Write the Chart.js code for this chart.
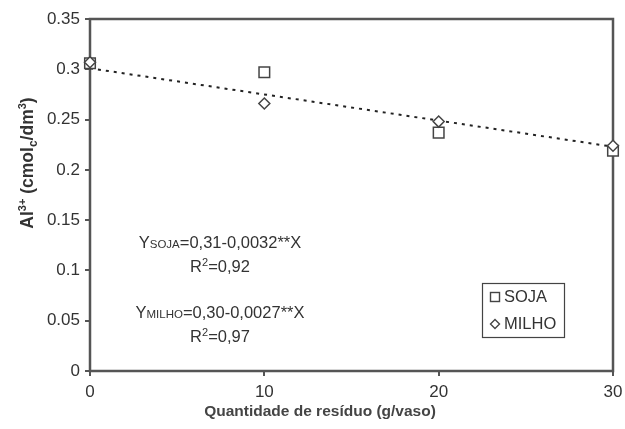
<!DOCTYPE html>
<html>
<head>
<meta charset="utf-8">
<script src="https://cdn.jsdelivr.net/npm/chart.js@4.4.1/dist/chart.umd.min.js"></script>
<style>
  html, body { margin: 0; background: #fff; }
  #wrap { width: 625px; height: 429px; }
</style>
</head>
<body>
<div id="wrap"><canvas id="alChart"></canvas></div>
<script>
// Al3+ no solo em função da dose de resíduo
const doses = [0, 10, 20, 30];
const soja = [0.306, 0.297, 0.237, 0.219];
const milho = [0.307, 0.266, 0.248, 0.224];
const trendX = [0, 30];
const trendY = [0.301, 0.223];
const xTicks = [0, 10, 20, 30];
const yTicks = ['0', '0.05', '0.1', '0.15', '0.2', '0.25', '0.3', '0.35'];
const seriesNames = ['SOJA', 'MILHO'];
const xTitle = 'Quantidade de resíduo (g/vaso)';

const FONT = '"Liberation Sans", Arial, sans-serif';
const INK = '#333';
const AXIS = '#555';

// texto com sub/sobrescritos: [texto, tamanho, deslocamento vertical]
function richText(ctx, parts, x, y, bold, align) {
    const w = parts.reduce((s, p) => {
        ctx.font = (bold ? 'bold ' : '') + p[1] + 'px ' + FONT;
        return s + ctx.measureText(p[0]).width;
    }, 0);
    let cx = align === 'center' ? x - w / 2 : x;
    ctx.textBaseline = 'alphabetic';
    ctx.textAlign = 'left';
    parts.forEach(p => {
        ctx.font = (bold ? 'bold ' : '') + p[1] + 'px ' + FONT;
        ctx.fillText(p[0], cx, y + (p[2] || 0));
        cx += ctx.measureText(p[0]).width;
    });
}

const equations = [
    { y: 248, parts: [['Y', 16.5], ['SOJA', 11.5], ['=0,31-0,0032**X', 16.5]] },
    { y: 272, parts: [['R', 16.5], ['2', 11, -6], ['=0,92', 16.5]] },
    { y: 318, parts: [['Y', 16.5], ['MILHO', 11.5], ['=0,30-0,0027**X', 16.5]] },
    { y: 342, parts: [['R', 16.5], ['2', 11, -6], ['=0,97', 16.5]] }
];

function drawSquare(ctx, x, y, s) {
    ctx.fillStyle = '#fff';
    ctx.fillRect(x - s / 2, y - s / 2, s, s);
    ctx.strokeRect(x - s / 2, y - s / 2, s, s);
}
function drawDiamond(ctx, x, y, r) {
    ctx.beginPath();
    ctx.moveTo(x, y - r); ctx.lineTo(x + r, y); ctx.lineTo(x, y + r); ctx.lineTo(x - r, y);
    ctx.closePath();
    ctx.fillStyle = '#fff';
    ctx.fill();
    ctx.stroke();
}

const decorPlugin = {
    id: 'decor',
    beforeDatasetsDraw(chart) {
        const { ctx, chartArea: a } = chart;
        ctx.save();
        ctx.strokeStyle = AXIS;
        ctx.lineWidth = 2.5;
        ctx.strokeRect(a.left, a.top, a.right - a.left, a.bottom - a.top);
        ctx.restore();
    },
    afterDraw(chart) {
        const ctx = chart.ctx;
        ctx.save();
        ctx.fillStyle = INK;

        // título eixo Y (rotacionado)
        ctx.save();
        ctx.translate(33, 163);
        ctx.rotate(-Math.PI / 2);
        richText(ctx, [['Al', 17.5], ['3+', 11, -7], [' (cmol', 17.5], ['c', 12, 4], ['/dm', 17.5], ['3', 11, -7], [')', 17.5]], 0, 0, true, 'center');
        ctx.restore();

        // título eixo X
        ctx.fillStyle = '#444';
        richText(ctx, [[xTitle, 15.5]], 320, 416, true, 'center');

        // equações de regressão
        ctx.fillStyle = INK;
        equations.forEach(e => richText(ctx, e.parts, 220, e.y, false, 'center'));

        // legenda
        ctx.strokeStyle = '#444';
        ctx.lineWidth = 1.2;
        ctx.strokeRect(482.5, 283.5, 82, 54);
        ctx.lineWidth = 1.4;
        drawSquare(ctx, 495, 297, 9);
        drawDiamond(ctx, 495, 324, 4.5);
        ctx.fillStyle = INK;
        ctx.font = '16.5px ' + FONT;
        ctx.textBaseline = 'middle';
        ctx.textAlign = 'left';
        ctx.fillText(seriesNames[0], 504, 297);
        ctx.fillText(seriesNames[1], 504, 324);
        ctx.restore();
    }
};

const toPoints = (xs, ys) => xs.map((x, i) => ({ x: x, y: ys[i] }));

new Chart(document.getElementById('alChart'), {
    type: 'scatter',
    data: {
        datasets: [
            {
                label: seriesNames[0],
                data: toPoints(doses, soja),
                pointStyle: 'rect',
                pointRadius: 7.5,
                borderColor: '#444',
                backgroundColor: '#fff',
                borderWidth: 1.5,
                clip: false,
                order: 1
            },
            {
                label: seriesNames[1],
                data: toPoints(doses, milho),
                pointStyle: 'rectRot',
                pointRadius: 5.5,
                borderColor: '#444',
                backgroundColor: '#fff',
                borderWidth: 1.5,
                clip: false,
                order: 0
            },
            {
                label: 'tendência',
                data: toPoints(trendX, trendY),
                showLine: true,
                pointRadius: 0,
                borderColor: '#222',
                borderWidth: 2,
                borderDash: [3, 5],
                clip: false,
                order: 3
            }
        ]
    },
    options: {
        responsive: true,
        maintainAspectRatio: false,
        animation: false,
        layout: { padding: { top: 19, right: 12, left: 0, bottom: 0 } },
        plugins: {
            legend: { display: false },
            tooltip: { enabled: false }
        },
        scales: {
            x: {
                type: 'linear',
                min: 0,
                max: 30,
                afterBuildTicks: s => { s.ticks = xTicks.map(v => ({ value: v })); },
                afterFit: s => { s.height = 58; s.paddingLeft = 0; s.paddingRight = 0; },
                grid: { drawOnChartArea: false, color: AXIS, lineWidth: 2, tickLength: 5 },
                border: { display: false },
                ticks: {
                    color: INK,
                    padding: 6,
                    maxRotation: 0,
                    font: { family: FONT, size: 17 }
                }
            },
            y: {
                min: 0,
                max: 0.35,
                afterBuildTicks: s => { s.ticks = yTicks.map(v => ({ value: +v })); },
                afterFit: s => { s.width = 90; s.paddingTop = 0; s.paddingBottom = 0; },
                grid: { drawOnChartArea: false, color: AXIS, lineWidth: 2, tickLength: 5 },
                border: { display: false },
                ticks: {
                    color: INK,
                    padding: 5,
                    font: { family: FONT, size: 17 },
                    callback: (v, i) => yTicks[i]
                }
            }
        }
    },
    plugins: [decorPlugin]
});
</script>
</body>
</html>
